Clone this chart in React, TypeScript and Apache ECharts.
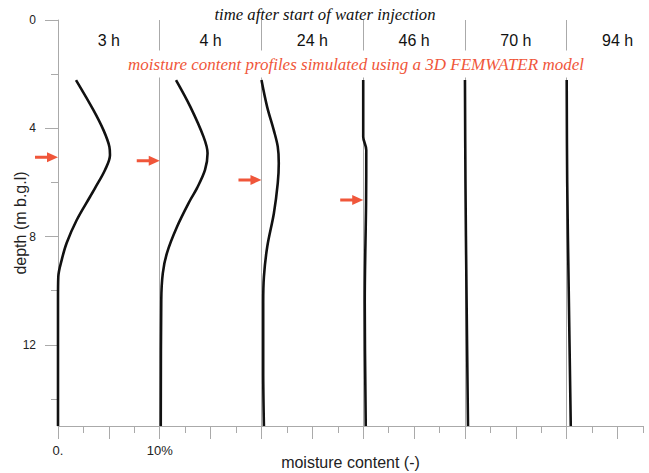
import React, { useEffect, useRef } from "react";
import * as echarts from "echarts";

const timeLabels = ["3 h", "4 h", "24 h", "46 h", "70 h", "94 h"];
const offsets = [0, 10, 20, 30, 40, 50];

const depth3h = [2.22, 3.32, 4.06, 4.68, 4.99, 5.54, 6.21, 6.53, 7.39, 8.24, 8.87, 9.48, 10.3, 15];
const moist3h = [1.77, 3.47, 4.46, 5.05, 5.11, 4.62, 3.64, 3.15, 1.84, 0.85, 0.36, 0.03, 0, 0];

const depth4h = [2.22, 3.2, 4.31, 4.92, 5.54, 6.22, 6.65, 7.64, 8.62, 9.36, 10.34, 15];
const moist4h = [1.6, 3.0, 4.3, 4.7, 4.45, 3.65, 3.0, 1.7, 0.7, 0.3, 0.15, 0.1];

const depth24h = [2.22, 3.2, 4.06, 4.68, 5.29, 6.03, 7.14, 8.37, 9.48, 10.45, 12.93, 15];
const moist24h = [0, 0.55, 1.2, 1.6, 1.7, 1.6, 1.22, 0.57, 0.24, 0.17, 0.17, 0.24];

const depth46h = [2.22, 4.31, 4.8, 6.76, 10.45, 15];
const moist46h = [0, 0, 0.3, 0.28, 0.15, 0.25];

const depth70h = [2.22, 6, 10, 15];
const moist70h = [0, 0.05, 0.15, 0.3];

const depth94h = [2.22, 6, 10, 15];
const moist94h = [0, 0.05, 0.2, 0.4];

const profileDepths = [depth3h, depth4h, depth24h, depth46h, depth70h, depth94h];
const profileMoist = [moist3h, moist4h, moist24h, moist46h, moist70h, moist94h];

const arrowDepths = [5.07, 5.2, 5.91, 6.65];
const arrowOffsets = [0, 10, 20, 30];

const yMajorTicks = [0, 4, 8, 12];
const yMinorTicks = [2, 6, 10, 14];
const xMajorTicks = [0, 5, 10, 15, 20, 25, 30, 35, 40, 45, 50, 55];
const xMinorTicks = [2.5, 7.5, 12.5, 17.5, 22.5, 27.5, 32.5, 37.5, 42.5, 47.5, 52.5, 57.5];
const xLabelValues = [0, 10];
const xLabelTexts = ["0.", "10%"];
const bandCenters = [5, 15, 25, 35, 45, 55];

const GRAY = "#aaaaaa";
const RED = "#f0563a";
const SANS = "Liberation Sans, Arial, sans-serif";
const SERIF = "Liberation Serif, Times New Roman, serif";

export default function App() {
  const ref = useRef<HTMLDivElement>(null);
  useEffect(() => {
    if (!ref.current) return;
    const chart = echarts.init(ref.current, null, { renderer: "svg" });
    const xBase = { type: "value", min: 0, max: 57.5, gridIndex: 0 };
    const yBase = { type: "value", min: 0, max: 15, inverse: true, gridIndex: 0 };

    const profileSeries = profileDepths.map((d, i) => ({
      type: "line",
      name: timeLabels[i],
      xAxisIndex: 0,
      yAxisIndex: 0,
      smooth: 0.35,
      symbol: "none",
      lineStyle: { color: "#111", width: 2.6 },
      data: d.map((dep, j) => [profileMoist[i][j] + offsets[i], dep]),
      z: 5,
      markLine:
        i > 0
          ? {
              silent: true,
              symbol: "none",
              label: { show: false },
              lineStyle: { color: GRAY, width: 1, type: "solid" },
              data: [{ xAxis: offsets[i] }],
              z: 1,
            }
          : undefined,
    }));

    const option = {
      animation: false,
      grid: { left: 58, right: 6, top: 20, bottom: 47, containLabel: false, outerBoundsMode: "none" },
      xAxis: [
        {
          ...xBase,
          position: "bottom",
          name: "moisture content (-)",
          nameLocation: "middle",
          nameGap: 28,
          nameMoveOverlap: false,
          nameTextStyle: { fontFamily: SANS, fontSize: 16, color: "#222" },
          axisLine: { show: true, onZero: false, lineStyle: { color: GRAY, width: 1 } },
          axisTick: { show: true, customValues: xMajorTicks, length: 13, lineStyle: { color: GRAY } },
          axisLabel: {
            show: true,
            customValues: xLabelValues,
            margin: 18,
            fontFamily: SANS,
            fontSize: 13,
            color: "#222",
            formatter: (v: number) => {
              const k = xLabelValues.indexOf(v);
              return k >= 0 ? xLabelTexts[k] : "";
            },
          },
          splitLine: { show: false },
        },
        {
          ...xBase,
          position: "bottom",
          axisLine: { show: false, onZero: false },
          axisTick: { show: true, customValues: xMinorTicks, length: 7, lineStyle: { color: GRAY } },
          axisLabel: { show: false },
          splitLine: { show: false },
        },
        {
          ...xBase,
          position: "top",
          axisLine: { show: false, onZero: false },
          axisTick: { show: false },
          axisLabel: {
            show: true,
            inside: true,
            customValues: bandCenters,
            margin: 12,
            fontFamily: SANS,
            fontSize: 16,
            color: "#111",
            formatter: (v: number) => {
              const k = bandCenters.indexOf(v);
              return k >= 0 ? timeLabels[k] : "";
            },
          },
          splitLine: { show: false },
        },
      ],
      yAxis: [
        {
          ...yBase,
          position: "left",
          name: "depth (m b.g.l)",
          nameLocation: "middle",
          nameGap: 30,
          nameMoveOverlap: false,
          nameRotate: 90,
          nameTextStyle: { fontFamily: SANS, fontSize: 16, color: "#222" },
          axisLine: { show: true, onZero: false, lineStyle: { color: GRAY, width: 1 } },
          axisTick: { show: true, customValues: yMajorTicks, length: 13, lineStyle: { color: GRAY } },
          axisLabel: {
            show: true,
            customValues: yMajorTicks,
            margin: 22,
            fontFamily: SANS,
            fontSize: 12,
            color: "#222",
          },
          splitLine: { show: false },
        },
        {
          ...yBase,
          position: "left",
          axisLine: { show: false, onZero: false },
          axisTick: { show: true, customValues: yMinorTicks, length: 7, lineStyle: { color: GRAY } },
          axisLabel: { show: false },
          splitLine: { show: false },
        },
      ],
      series: [
        ...profileSeries,
        {
          type: "scatter",
          xAxisIndex: 0,
          yAxisIndex: 0,
          symbol: "path://M0,3.5 L12,3.5 L12,0 L23,5 L12,10 L12,6.5 L0,6.5 Z",
          symbolSize: [23, 10],
          symbolOffset: [-11.5, 0],
          itemStyle: { color: RED, opacity: 1 },
          data: arrowDepths.map((d, i) => [arrowOffsets[i], d]),
          z: 6,
        },
      ],
      graphic: [
        {
          type: "text",
          x: 325,
          y: 14,
          z: 10,
          style: {
            text: "time after start of water injection",
            fontFamily: SERIF,
            fontStyle: "italic",
            fontSize: 16.7,
            fill: "#111",
            textAlign: "center",
            textVerticalAlign: "middle",
          },
        },
        {
          type: "text",
          x: 356,
          y: 64,
          z: 10,
          style: {
            text: "moisture content profiles simulated using a 3D FEMWATER model",
            fontFamily: SERIF,
            fontStyle: "italic",
            fontSize: 17,
            fill: RED,
            textAlign: "center",
            textVerticalAlign: "middle",
            backgroundColor: "#ffffff",
            padding: [5, 0],
          },
        },
      ],
    };
    chart.setOption(option as any);
    return () => chart.dispose();
  }, []);
  return (
    <div
      ref={ref}
      style={{ position: "fixed", left: 0, top: 0, width: 649, height: 473, background: "#fff" }}
    />
  );
}
